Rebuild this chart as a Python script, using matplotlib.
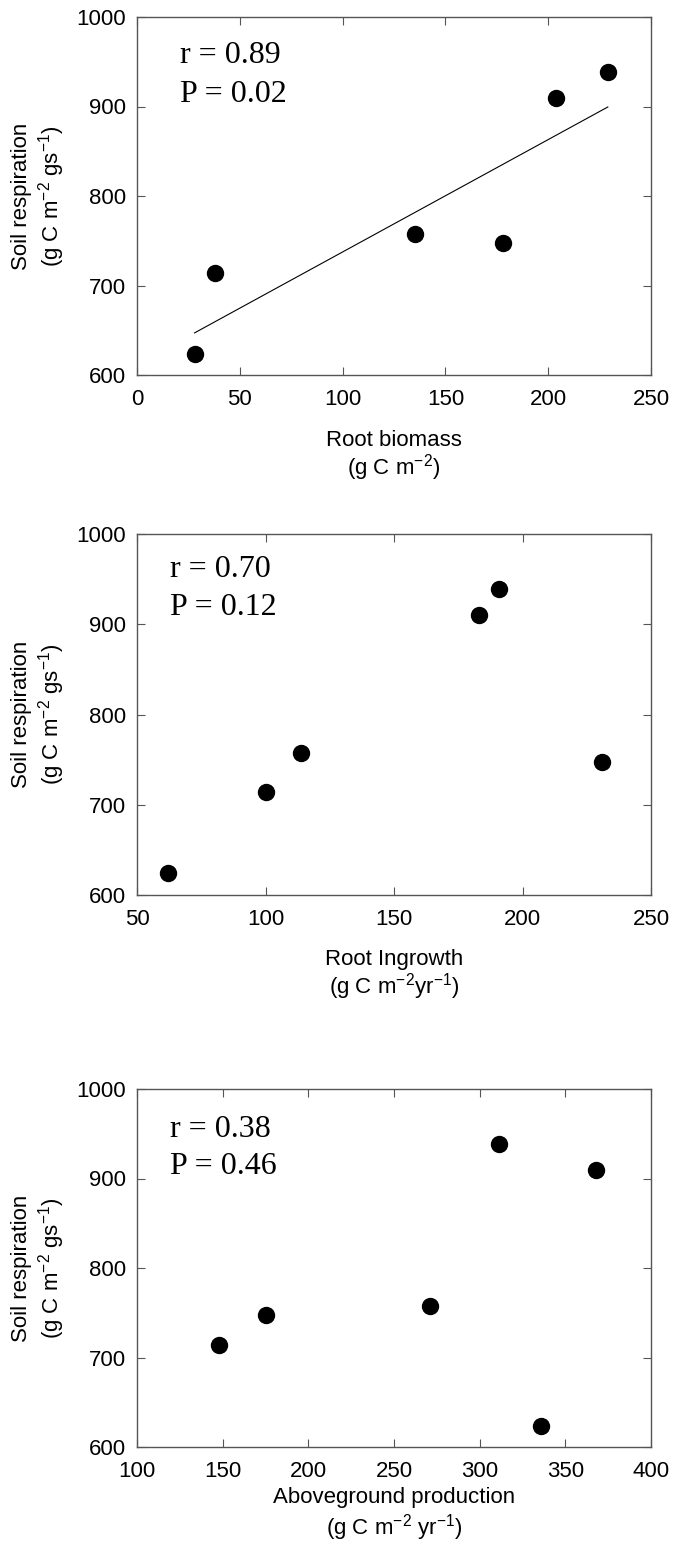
import numpy as np
import matplotlib
matplotlib.use("Agg")
from matplotlib import pyplot as plt

plt.rcParams["font.family"] = ["Liberation Sans", "DejaVu Sans"]
plt.rcParams["mathtext.fontset"] = "custom"
plt.rcParams["mathtext.rm"] = "Liberation Sans"
plt.rcParams["mathtext.it"] = "Liberation Sans:italic"
plt.rcParams["mathtext.bf"] = "Liberation Sans:bold"

# soil respiration per site (same six sites in every panel)
soil_resp = [624, 714, 757, 747, 910, 939]
root_biomass = [28, 38, 135, 178, 204, 229]
root_ingrowth = [62, 100, 114, 231, 183, 191]
aboveground = [336, 148, 271, 175, 368, 311]

stats = [("0.89", "0.02"), ("0.70", "0.12"), ("0.38", "0.46")]
xlabels = [
    ("Root biomass", "(g C m$^{-2}$)"),
    ("Root Ingrowth", "(g C m$^{-2}$yr$^{-1}$)"),
    ("Aboveground production", "(g C m$^{-2}$ yr$^{-1}$)"),
]
xlims = [(0, 250), (50, 250), (100, 400)]
xticks = [[0, 50, 100, 150, 200, 250], [50, 100, 150, 200, 250],
          [100, 150, 200, 250, 300, 350, 400]]
yticks = [600, 700, 800, 900, 1000]

W, H = 675, 1556
fig = plt.figure(figsize=(W / 100, H / 100), dpi=100)

# axes frames in pixels: (top, bottom)
frames = [(17, 375), (534, 895), (1089, 1447)]
left, right = 137, 651
text_pos = [(0.084, 0.8715, 0.7626), (0.064, 0.881, 0.776), (0.064, 0.866, 0.7626)]
xlab_off = [(65, 93), (64, 92), (51, 81)]

xdata = [root_biomass, root_ingrowth, aboveground]
frame_col = "#555555"

for i in range(3):
    top, bot = frames[i]
    ax = fig.add_axes([left / W, 1 - bot / H, (right - left) / W, (bot - top) / H])
    x = np.array(xdata[i], dtype=float)
    y = np.array(soil_resp, dtype=float)
    ax.plot(x, y, "o", color="black", ms=11.5, zorder=3)
    if i == 0:
        k, b = np.polyfit(x, y, 1)
        xx = np.array([x.min(), x.max()])
        ax.plot(xx, k * xx + b, color="black", lw=0.8)
    ax.set_xlim(*xlims[i])
    ax.set_ylim(600, 1000)
    ax.set_xticks(xticks[i])
    ax.set_yticks(yticks)
    ax.tick_params(direction="in", top=True, right=True, length=6,
                   width=0.8, color=frame_col, labelsize=16)
    ax.tick_params(axis="x", pad=10)
    ax.tick_params(axis="y", pad=8)
    for s in ax.spines.values():
        s.set_color(frame_col)
        s.set_linewidth(1.0)

    tx, ty1, ty2 = text_pos[i]
    ax.text(tx, ty1, f"r = {stats[i][0]}", transform=ax.transAxes,
            family="Liberation Serif", fontsize=23, va="baseline")
    ax.text(tx, ty2, f"P = {stats[i][1]}", transform=ax.transAxes,
            family="Liberation Serif", fontsize=23, va="baseline")

    # two-line axis labels
    cx = (left + right) / 2 / W
    l1, l2 = xlabels[i]
    fig.text(cx, 1 - (bot + xlab_off[i][0]) / H, l1, ha="center", va="center", fontsize=16)
    fig.text(cx, 1 - (bot + xlab_off[i][1]) / H, l2, ha="center", va="center", fontsize=16)
    cy = 1 - (top + bot) / 2 / H
    fig.text(22 / W, cy, "Soil respiration", rotation=90, ha="center", va="center", fontsize=16)
    fig.text(52 / W, cy, "(g C m$^{-2}$ gs$^{-1}$)", rotation=90, ha="center", va="center", fontsize=16)

fig.savefig("out.png", dpi=100)
